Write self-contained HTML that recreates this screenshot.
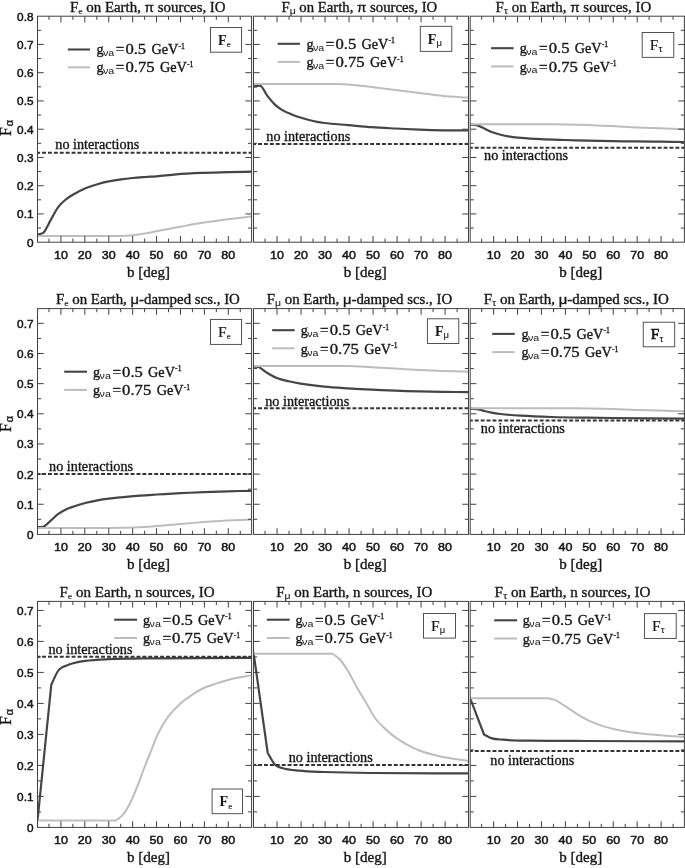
<!DOCTYPE html>
<html><head><meta charset="utf-8"><title>Flavor fractions on Earth</title>
<style>html,body{margin:0;padding:0;background:#fff}svg{display:block}</style></head>
<body>
<svg width="685" height="868" viewBox="0 0 685 868">
<rect width="685" height="868" fill="#fff"/>
<g>
<clipPath id="cp00"><rect x="37.5" y="16.2" width="214.1" height="226"/></clipPath>
<path d="M37.5,234.5C38.67,234.23 39.83,234.11 41,233.7C41.9,233.38 42.8,233.41 43.7,232.4C46.07,229.75 48.43,224.05 50.8,219.9C53.2,215.69 55.6,210.6 58,207.3C60.63,203.68 63.27,201.58 65.9,199.4C68.53,197.22 71.17,195.73 73.8,194.2C77.9,191.82 82,189.72 86.1,188C89.87,186.42 93.63,185.3 97.4,184.2C101.2,183.09 105,182.19 108.8,181.4C112.9,180.55 117,179.88 121.1,179.3C124.93,178.76 128.77,178.36 132.6,178C136.93,177.59 141.27,177.31 145.6,177C149.2,176.74 152.8,176.6 156.4,176.3C163.03,175.75 169.67,174.81 176.3,174.3C185.07,173.63 193.83,173.27 202.6,172.9C211.33,172.53 220.07,172.31 228.8,172.1C236.4,171.92 244,171.83 251.6,171.7" fill="none" stroke="#454545" stroke-width="2.2" stroke-linejoin="round" clip-path="url(#cp00)"/>
<path d="M37.5,235.9C64.33,235.9 91.17,235.9 118,235.9C120.67,235.9 123.33,235.83 126,235.7C128.2,235.59 130.4,235.43 132.6,235.2C136.57,234.78 140.53,234.25 144.5,233.6C148.47,232.95 152.43,232.08 156.4,231.3C160.37,230.52 164.33,229.67 168.3,228.9C172.27,228.13 176.23,227.42 180.2,226.7C188.13,225.27 196.07,223.75 204,222.5C211.9,221.25 219.8,220.18 227.7,219.2C235.67,218.21 243.63,217.47 251.6,216.6" fill="none" stroke="#bdbdbd" stroke-width="2.0" stroke-linejoin="round" clip-path="url(#cp00)"/>
<line x1="37.5" x2="251.6" y1="152.7" y2="152.7" stroke="#333" stroke-width="1.9" stroke-dasharray="3.9 2" stroke-dashoffset="1.3"/>
<path d="M48.98,242.2v-3.6M48.98,16.2v3.6M60.93,242.2v-6.2M60.93,16.2v6.2M72.88,242.2v-3.6M72.88,16.2v3.6M84.84,242.2v-6.2M84.84,16.2v6.2M96.79,242.2v-3.6M96.79,16.2v3.6M108.75,242.2v-6.2M108.75,16.2v6.2M120.7,242.2v-3.6M120.7,16.2v3.6M132.66,242.2v-6.2M132.66,16.2v6.2M144.61,242.2v-3.6M144.61,16.2v3.6M156.56,242.2v-6.2M156.56,16.2v6.2M168.52,242.2v-3.6M168.52,16.2v3.6M180.47,242.2v-6.2M180.47,16.2v6.2M192.43,242.2v-3.6M192.43,16.2v3.6M204.38,242.2v-6.2M204.38,16.2v6.2M216.34,242.2v-3.6M216.34,16.2v3.6M228.29,242.2v-6.2M228.29,16.2v6.2M240.24,242.2v-3.6M240.24,16.2v3.6M37.5,228.07h3.6M251.6,228.07h-3.6M37.5,213.95h6.2M251.6,213.95h-6.2M37.5,199.82h3.6M251.6,199.82h-3.6M37.5,185.7h6.2M251.6,185.7h-6.2M37.5,171.57h3.6M251.6,171.57h-3.6M37.5,157.45h6.2M251.6,157.45h-6.2M37.5,143.32h3.6M251.6,143.32h-3.6M37.5,129.2h6.2M251.6,129.2h-6.2M37.5,115.07h3.6M251.6,115.07h-3.6M37.5,100.95h6.2M251.6,100.95h-6.2M37.5,86.82h3.6M251.6,86.82h-3.6M37.5,72.7h6.2M251.6,72.7h-6.2M37.5,58.57h3.6M251.6,58.57h-3.6M37.5,44.45h6.2M251.6,44.45h-6.2M37.5,30.32h3.6M251.6,30.32h-3.6" stroke="#404040" stroke-width="1" fill="none"/>
<rect x="37.5" y="16.2" width="214.1" height="226" fill="none" stroke="#404040" stroke-width="1"/>
<line x1="67.8" x2="90.0" y1="49.5" y2="49.5" stroke="#454545" stroke-width="2.1"/>
<line x1="67.8" x2="90.0" y1="67.3" y2="67.3" stroke="#bdbdbd" stroke-width="2"/>
<rect x="210.5" y="27.45" width="31.1" height="24.75" fill="#fff" stroke="#404040" stroke-width="0.9"/>
</g>
<g>
<clipPath id="cp01"><rect x="253.5" y="16.2" width="215" height="226"/></clipPath>
<path d="M253.5,86.5C254.5,86.4 255.5,86.39 256.5,86.2C257.1,86.09 257.7,85.7 258.3,85.7C259,85.7 259.7,85.7 260.4,85.8C262.6,86.11 264.8,92.52 267,95.4C269.63,98.85 272.27,102.08 274.9,104.6C277.23,106.83 279.57,108.44 281.9,109.85C285.4,111.97 288.9,113.29 292.4,114.7C295.9,116.11 299.4,117.23 302.9,118.3C306.27,119.33 309.63,120.25 313,121C316.77,121.84 320.53,122.5 324.3,123C332.23,124.05 340.17,124.4 348.1,125.1C356.03,125.8 363.97,126.63 371.9,127.2C379.83,127.77 387.77,128.1 395.7,128.5C403.63,128.9 411.57,129.3 419.5,129.6C427.4,129.9 435.3,130.15 443.2,130.3C451.63,130.46 460.07,130.43 468.5,130.5" fill="none" stroke="#454545" stroke-width="2.2" stroke-linejoin="round" clip-path="url(#cp01)"/>
<path d="M253.5,83.9C279,83.9 304.5,83.9 330,83.9C332.87,83.9 335.73,83.94 338.6,84.05C341.77,84.17 344.93,84.36 348.1,84.6C352.07,84.9 356.03,85.3 360,85.7C363.97,86.1 367.93,86.53 371.9,87C379.83,87.93 387.77,89.02 395.7,90C403.63,90.98 411.57,91.9 419.5,92.9C427.4,93.9 435.3,95.23 443.2,96C451.63,96.82 460.07,97.07 468.5,97.6" fill="none" stroke="#bdbdbd" stroke-width="2.0" stroke-linejoin="round" clip-path="url(#cp01)"/>
<line x1="253.5" x2="468.5" y1="144" y2="144" stroke="#333" stroke-width="1.9" stroke-dasharray="3.9 2" stroke-dashoffset="1.3"/>
<path d="M265.02,242.2v-3.6M265.02,16.2v3.6M277.03,242.2v-6.2M277.03,16.2v6.2M289.03,242.2v-3.6M289.03,16.2v3.6M301.04,242.2v-6.2M301.04,16.2v6.2M313.04,242.2v-3.6M313.04,16.2v3.6M325.05,242.2v-6.2M325.05,16.2v6.2M337.05,242.2v-3.6M337.05,16.2v3.6M349.06,242.2v-6.2M349.06,16.2v6.2M361.06,242.2v-3.6M361.06,16.2v3.6M373.06,242.2v-6.2M373.06,16.2v6.2M385.07,242.2v-3.6M385.07,16.2v3.6M397.07,242.2v-6.2M397.07,16.2v6.2M409.08,242.2v-3.6M409.08,16.2v3.6M421.08,242.2v-6.2M421.08,16.2v6.2M433.09,242.2v-3.6M433.09,16.2v3.6M445.09,242.2v-6.2M445.09,16.2v6.2M457.1,242.2v-3.6M457.1,16.2v3.6M253.5,228.07h3.6M468.5,228.07h-3.6M253.5,213.95h6.2M468.5,213.95h-6.2M253.5,199.82h3.6M468.5,199.82h-3.6M253.5,185.7h6.2M468.5,185.7h-6.2M253.5,171.57h3.6M468.5,171.57h-3.6M253.5,157.45h6.2M468.5,157.45h-6.2M253.5,143.32h3.6M468.5,143.32h-3.6M253.5,129.2h6.2M468.5,129.2h-6.2M253.5,115.07h3.6M468.5,115.07h-3.6M253.5,100.95h6.2M468.5,100.95h-6.2M253.5,86.82h3.6M468.5,86.82h-3.6M253.5,72.7h6.2M468.5,72.7h-6.2M253.5,58.57h3.6M468.5,58.57h-3.6M253.5,44.45h6.2M468.5,44.45h-6.2M253.5,30.32h3.6M468.5,30.32h-3.6" stroke="#404040" stroke-width="1" fill="none"/>
<rect x="253.5" y="16.2" width="215" height="226" fill="none" stroke="#404040" stroke-width="1"/>
<line x1="277.6" x2="299.9" y1="43.800000000000004" y2="43.800000000000004" stroke="#454545" stroke-width="2.1"/>
<line x1="277.6" x2="299.9" y1="61.900000000000006" y2="61.900000000000006" stroke="#bdbdbd" stroke-width="2"/>
<rect x="420.3" y="26.3" width="31.5" height="25.05" fill="#fff" stroke="#404040" stroke-width="0.9"/>
</g>
<g>
<clipPath id="cp02"><rect x="470.2" y="16.2" width="214.2" height="226"/></clipPath>
<path d="M470.2,124.6C471.47,124.67 472.73,124.65 474,124.8C475.4,124.97 476.8,125.13 478.2,125.6C480.23,126.28 482.27,127.53 484.3,128.5C486.33,129.47 488.37,130.56 490.4,131.4C492.1,132.1 493.8,132.64 495.5,133.2C497.23,133.77 498.97,134.37 500.7,134.8C503.8,135.58 506.9,136.12 510,136.6C513.7,137.17 517.4,137.56 521.1,137.9C527.67,138.5 534.23,138.87 540.8,139.2C548.73,139.6 556.67,139.77 564.6,140C572.53,140.23 580.47,140.4 588.4,140.6C596.33,140.8 604.27,141.07 612.2,141.2C620.13,141.33 628.07,141.32 636,141.4C643.9,141.48 651.8,141.6 659.7,141.7C667.93,141.8 676.17,141.9 684.4,142" fill="none" stroke="#454545" stroke-width="2.2" stroke-linejoin="round" clip-path="url(#cp02)"/>
<path d="M470.2,124.3C498.5,124.3 526.8,124.3 555.1,124.3C558.27,124.3 561.43,124.34 564.6,124.4C572.53,124.54 580.47,124.72 588.4,125C596.33,125.28 604.27,125.7 612.2,126.1C620.13,126.5 628.07,127.03 636,127.4C643.9,127.77 651.8,127.99 659.7,128.3C667.93,128.62 676.17,128.97 684.4,129.3" fill="none" stroke="#bdbdbd" stroke-width="2.0" stroke-linejoin="round" clip-path="url(#cp02)"/>
<line x1="470.2" x2="684.4" y1="147.8" y2="147.8" stroke="#333" stroke-width="1.9" stroke-dasharray="3.9 2" stroke-dashoffset="1.3"/>
<path d="M481.68,242.2v-3.6M481.68,16.2v3.6M493.64,242.2v-6.2M493.64,16.2v6.2M505.6,242.2v-3.6M505.6,16.2v3.6M517.56,242.2v-6.2M517.56,16.2v6.2M529.52,242.2v-3.6M529.52,16.2v3.6M541.48,242.2v-6.2M541.48,16.2v6.2M553.44,242.2v-3.6M553.44,16.2v3.6M565.4,242.2v-6.2M565.4,16.2v6.2M577.36,242.2v-3.6M577.36,16.2v3.6M589.32,242.2v-6.2M589.32,16.2v6.2M601.28,242.2v-3.6M601.28,16.2v3.6M613.24,242.2v-6.2M613.24,16.2v6.2M625.2,242.2v-3.6M625.2,16.2v3.6M637.16,242.2v-6.2M637.16,16.2v6.2M649.12,242.2v-3.6M649.12,16.2v3.6M661.08,242.2v-6.2M661.08,16.2v6.2M673.04,242.2v-3.6M673.04,16.2v3.6M470.2,228.07h3.6M684.4,228.07h-3.6M470.2,213.95h6.2M684.4,213.95h-6.2M470.2,199.82h3.6M684.4,199.82h-3.6M470.2,185.7h6.2M684.4,185.7h-6.2M470.2,171.57h3.6M684.4,171.57h-3.6M470.2,157.45h6.2M684.4,157.45h-6.2M470.2,143.32h3.6M684.4,143.32h-3.6M470.2,129.2h6.2M684.4,129.2h-6.2M470.2,115.07h3.6M684.4,115.07h-3.6M470.2,100.95h6.2M684.4,100.95h-6.2M470.2,86.82h3.6M684.4,86.82h-3.6M470.2,72.7h6.2M684.4,72.7h-6.2M470.2,58.57h3.6M684.4,58.57h-3.6M470.2,44.45h6.2M684.4,44.45h-6.2M470.2,30.32h3.6M684.4,30.32h-3.6" stroke="#404040" stroke-width="1" fill="none"/>
<rect x="470.2" y="16.2" width="214.2" height="226" fill="none" stroke="#404040" stroke-width="1"/>
<line x1="491.1" x2="513.6" y1="48.2" y2="48.2" stroke="#454545" stroke-width="2.1"/>
<line x1="491.1" x2="513.6" y1="66.4" y2="66.4" stroke="#bdbdbd" stroke-width="2"/>
<rect x="642.2" y="32.45" width="31.6" height="24.9" fill="#fff" stroke="#404040" stroke-width="0.9"/>
</g>
<g>
<clipPath id="cp10"><rect x="37.5" y="308.6" width="214.1" height="225.8"/></clipPath>
<path d="M37.5,527.2C38.7,527.13 39.9,527.13 41.1,527C42.07,526.89 43.03,526.99 44,526.5C46.33,525.32 48.67,522.45 51,520.4C53.33,518.35 55.67,515.93 58,514.2C60.63,512.25 63.27,510.78 65.9,509.5C68.53,508.22 71.17,507.4 73.8,506.5C77.9,505.1 82,503.87 86.1,502.8C89.87,501.82 93.63,501 97.4,500.3C101.2,499.6 105,499.08 108.8,498.6C112.9,498.08 117,497.7 121.1,497.3C125.2,496.9 129.3,496.53 133.4,496.2C137.47,495.87 141.53,495.59 145.6,495.3C149.4,495.03 153.2,494.74 157,494.5C164.73,494.01 172.47,493.6 180.2,493.2C188.13,492.79 196.07,492.42 204,492.1C211.9,491.78 219.8,491.52 227.7,491.3C235.67,491.08 243.63,490.97 251.6,490.8" fill="none" stroke="#454545" stroke-width="2.2" stroke-linejoin="round" clip-path="url(#cp10)"/>
<path d="M37.5,527.9C61.67,527.9 85.83,527.9 110,527.9C114,527.9 118,527.82 122,527.75C125.53,527.69 129.07,527.62 132.6,527.5C136.57,527.37 140.53,527.23 144.5,527C148.47,526.77 152.43,526.42 156.4,526.1C160.37,525.78 164.33,525.45 168.3,525.1C172.27,524.75 176.23,524.34 180.2,524C188.13,523.32 196.07,522.67 204,522.1C211.9,521.53 219.8,521.03 227.7,520.6C235.67,520.16 243.63,519.87 251.6,519.5" fill="none" stroke="#bdbdbd" stroke-width="2.0" stroke-linejoin="round" clip-path="url(#cp10)"/>
<line x1="37.5" x2="251.6" y1="474" y2="474" stroke="#333" stroke-width="1.9" stroke-dasharray="3.9 2" stroke-dashoffset="1.3"/>
<path d="M48.98,534.4v-3.6M48.98,308.6v3.6M60.93,534.4v-6.2M60.93,308.6v6.2M72.88,534.4v-3.6M72.88,308.6v3.6M84.84,534.4v-6.2M84.84,308.6v6.2M96.79,534.4v-3.6M96.79,308.6v3.6M108.75,534.4v-6.2M108.75,308.6v6.2M120.7,534.4v-3.6M120.7,308.6v3.6M132.66,534.4v-6.2M132.66,308.6v6.2M144.61,534.4v-3.6M144.61,308.6v3.6M156.56,534.4v-6.2M156.56,308.6v6.2M168.52,534.4v-3.6M168.52,308.6v3.6M180.47,534.4v-6.2M180.47,308.6v6.2M192.43,534.4v-3.6M192.43,308.6v3.6M204.38,534.4v-6.2M204.38,308.6v6.2M216.34,534.4v-3.6M216.34,308.6v3.6M228.29,534.4v-6.2M228.29,308.6v6.2M240.24,534.4v-3.6M240.24,308.6v3.6M37.5,519.32h3.6M251.6,519.32h-3.6M37.5,504.25h6.2M251.6,504.25h-6.2M37.5,489.17h3.6M251.6,489.17h-3.6M37.5,474.1h6.2M251.6,474.1h-6.2M37.5,459.02h3.6M251.6,459.02h-3.6M37.5,443.95h6.2M251.6,443.95h-6.2M37.5,428.88h3.6M251.6,428.88h-3.6M37.5,413.8h6.2M251.6,413.8h-6.2M37.5,398.72h3.6M251.6,398.72h-3.6M37.5,383.65h6.2M251.6,383.65h-6.2M37.5,368.57h3.6M251.6,368.57h-3.6M37.5,353.5h6.2M251.6,353.5h-6.2M37.5,338.42h3.6M251.6,338.42h-3.6M37.5,323.35h6.2M251.6,323.35h-6.2" stroke="#404040" stroke-width="1" fill="none"/>
<rect x="37.5" y="308.6" width="214.1" height="225.8" fill="none" stroke="#404040" stroke-width="1"/>
<line x1="64.2" x2="87.0" y1="371.7" y2="371.7" stroke="#454545" stroke-width="2.1"/>
<line x1="64.2" x2="87.0" y1="389.9" y2="389.9" stroke="#bdbdbd" stroke-width="2"/>
<rect x="210.5" y="319.4" width="31.1" height="25.0" fill="#fff" stroke="#404040" stroke-width="0.9"/>
</g>
<g>
<clipPath id="cp11"><rect x="253.5" y="308.6" width="215" height="225.8"/></clipPath>
<path d="M253.5,366.6C254.53,366.6 255.57,366.6 256.6,366.6C257.47,366.6 258.33,366.78 259.2,367.2C261.1,368.12 263,370.12 264.9,371.4C266.87,372.72 268.83,373.91 270.8,375C272.8,376.11 274.8,377.22 276.8,378C280.77,379.54 284.73,380.35 288.7,381.3C292.67,382.25 296.63,383.05 300.6,383.7C308.5,385 316.4,385.92 324.3,386.7C332.23,387.49 340.17,387.9 348.1,388.4C356.03,388.9 363.97,389.32 371.9,389.7C379.83,390.08 387.77,390.42 395.7,390.7C403.63,390.98 411.57,391.2 419.5,391.4C427.4,391.6 435.3,391.79 443.2,391.9C451.63,392.02 460.07,392.03 468.5,392.1" fill="none" stroke="#454545" stroke-width="2.2" stroke-linejoin="round" clip-path="url(#cp11)"/>
<path d="M253.5,366C285.03,366 316.57,366 348.1,366C356.03,366 363.97,366.77 371.9,367.2C379.83,367.63 387.77,368.15 395.7,368.6C403.63,369.05 411.57,369.52 419.5,369.9C427.4,370.28 435.3,370.61 443.2,370.9C451.63,371.21 460.07,371.43 468.5,371.7" fill="none" stroke="#bdbdbd" stroke-width="2.0" stroke-linejoin="round" clip-path="url(#cp11)"/>
<line x1="253.5" x2="468.5" y1="408.3" y2="408.3" stroke="#333" stroke-width="1.9" stroke-dasharray="3.9 2" stroke-dashoffset="1.3"/>
<path d="M265.02,534.4v-3.6M265.02,308.6v3.6M277.03,534.4v-6.2M277.03,308.6v6.2M289.03,534.4v-3.6M289.03,308.6v3.6M301.04,534.4v-6.2M301.04,308.6v6.2M313.04,534.4v-3.6M313.04,308.6v3.6M325.05,534.4v-6.2M325.05,308.6v6.2M337.05,534.4v-3.6M337.05,308.6v3.6M349.06,534.4v-6.2M349.06,308.6v6.2M361.06,534.4v-3.6M361.06,308.6v3.6M373.06,534.4v-6.2M373.06,308.6v6.2M385.07,534.4v-3.6M385.07,308.6v3.6M397.07,534.4v-6.2M397.07,308.6v6.2M409.08,534.4v-3.6M409.08,308.6v3.6M421.08,534.4v-6.2M421.08,308.6v6.2M433.09,534.4v-3.6M433.09,308.6v3.6M445.09,534.4v-6.2M445.09,308.6v6.2M457.1,534.4v-3.6M457.1,308.6v3.6M253.5,519.32h3.6M468.5,519.32h-3.6M253.5,504.25h6.2M468.5,504.25h-6.2M253.5,489.17h3.6M468.5,489.17h-3.6M253.5,474.1h6.2M468.5,474.1h-6.2M253.5,459.02h3.6M468.5,459.02h-3.6M253.5,443.95h6.2M468.5,443.95h-6.2M253.5,428.88h3.6M468.5,428.88h-3.6M253.5,413.8h6.2M468.5,413.8h-6.2M253.5,398.72h3.6M468.5,398.72h-3.6M253.5,383.65h6.2M468.5,383.65h-6.2M253.5,368.57h3.6M468.5,368.57h-3.6M253.5,353.5h6.2M468.5,353.5h-6.2M253.5,338.42h3.6M468.5,338.42h-3.6M253.5,323.35h6.2M468.5,323.35h-6.2" stroke="#404040" stroke-width="1" fill="none"/>
<rect x="253.5" y="308.6" width="215" height="225.8" fill="none" stroke="#404040" stroke-width="1"/>
<line x1="272.2" x2="294.7" y1="330.2" y2="330.2" stroke="#454545" stroke-width="2.1"/>
<line x1="272.2" x2="294.7" y1="348.3" y2="348.3" stroke="#bdbdbd" stroke-width="2"/>
<rect x="427.4" y="318.8" width="31.4" height="24.7" fill="#fff" stroke="#404040" stroke-width="0.9"/>
</g>
<g>
<clipPath id="cp12"><rect x="470.2" y="308.6" width="214.2" height="225.8"/></clipPath>
<path d="M470.2,408.8C471.47,408.83 472.73,408.81 474,408.9C475.83,409.04 477.67,409.22 479.5,409.6C481.1,409.94 482.7,410.58 484.3,411C486.33,411.53 488.37,412.01 490.4,412.4C493.83,413.06 497.27,413.59 500.7,414C507.5,414.81 514.3,415.27 521.1,415.7C531.33,416.34 541.57,416.68 551.8,417C563.87,417.37 575.93,417.51 588,417.7C596,417.83 604,417.92 612,418C636.13,418.25 660.27,418.4 684.4,418.6" fill="none" stroke="#454545" stroke-width="2.2" stroke-linejoin="round" clip-path="url(#cp12)"/>
<path d="M470.2,408.3C501.67,408.3 533.13,408.3 564.6,408.3C572.53,408.3 580.47,408.37 588.4,408.5C596.33,408.63 604.27,408.87 612.2,409.1C620.13,409.33 628.07,409.65 636,409.9C643.9,410.15 651.8,410.39 659.7,410.6C667.93,410.82 676.17,411 684.4,411.2" fill="none" stroke="#bdbdbd" stroke-width="2.0" stroke-linejoin="round" clip-path="url(#cp12)"/>
<line x1="470.2" x2="684.4" y1="420.5" y2="420.5" stroke="#333" stroke-width="1.9" stroke-dasharray="3.9 2" stroke-dashoffset="1.3"/>
<path d="M481.68,534.4v-3.6M481.68,308.6v3.6M493.64,534.4v-6.2M493.64,308.6v6.2M505.6,534.4v-3.6M505.6,308.6v3.6M517.56,534.4v-6.2M517.56,308.6v6.2M529.52,534.4v-3.6M529.52,308.6v3.6M541.48,534.4v-6.2M541.48,308.6v6.2M553.44,534.4v-3.6M553.44,308.6v3.6M565.4,534.4v-6.2M565.4,308.6v6.2M577.36,534.4v-3.6M577.36,308.6v3.6M589.32,534.4v-6.2M589.32,308.6v6.2M601.28,534.4v-3.6M601.28,308.6v3.6M613.24,534.4v-6.2M613.24,308.6v6.2M625.2,534.4v-3.6M625.2,308.6v3.6M637.16,534.4v-6.2M637.16,308.6v6.2M649.12,534.4v-3.6M649.12,308.6v3.6M661.08,534.4v-6.2M661.08,308.6v6.2M673.04,534.4v-3.6M673.04,308.6v3.6M470.2,519.32h3.6M684.4,519.32h-3.6M470.2,504.25h6.2M684.4,504.25h-6.2M470.2,489.17h3.6M684.4,489.17h-3.6M470.2,474.1h6.2M684.4,474.1h-6.2M470.2,459.02h3.6M684.4,459.02h-3.6M470.2,443.95h6.2M684.4,443.95h-6.2M470.2,428.88h3.6M684.4,428.88h-3.6M470.2,413.8h6.2M684.4,413.8h-6.2M470.2,398.72h3.6M684.4,398.72h-3.6M470.2,383.65h6.2M684.4,383.65h-6.2M470.2,368.57h3.6M684.4,368.57h-3.6M470.2,353.5h6.2M684.4,353.5h-6.2M470.2,338.42h3.6M684.4,338.42h-3.6M470.2,323.35h6.2M684.4,323.35h-6.2" stroke="#404040" stroke-width="1" fill="none"/>
<rect x="470.2" y="308.6" width="214.2" height="225.8" fill="none" stroke="#404040" stroke-width="1"/>
<line x1="492.2" x2="514.7" y1="333.9" y2="333.9" stroke="#454545" stroke-width="2.1"/>
<line x1="492.2" x2="514.7" y1="352.09999999999997" y2="352.09999999999997" stroke="#bdbdbd" stroke-width="2"/>
<rect x="643.25" y="322.2" width="31.45" height="24.6" fill="#fff" stroke="#404040" stroke-width="0.9"/>
</g>
<g>
<clipPath id="cp20"><rect x="37.5" y="601.4" width="214.1" height="226"/></clipPath>
<path d="M37.5,820.6L51.3,684.7C53.53,680.13 55.77,674.33 58,671C59.1,669.36 60.2,668.67 61.3,667.9C62.87,666.8 64.43,666.34 66,665.7C68.4,664.72 70.8,663.85 73.2,663.2C77.17,662.13 81.13,661.43 85.1,660.9C93,659.85 100.9,659.58 108.8,659.2C116.73,658.82 124.67,658.75 132.6,658.6C140.53,658.45 148.47,658.37 156.4,658.3C188.13,658.03 219.87,658.03 251.6,657.9" fill="none" stroke="#454545" stroke-width="2.2" stroke-linejoin="round" clip-path="url(#cp20)"/>
<path d="M37.5,820.6L115.9,820.6C118.4,818.47 120.9,817.36 123.4,814.2C125.73,811.25 128.07,807.17 130.4,802.5C132.73,797.83 135.07,792.03 137.4,786.2C139.73,780.37 142.07,773.53 144.4,767.5C146.73,761.47 149.07,755.77 151.4,750C153.73,744.23 156.07,737.7 158.4,732.9C161.53,726.46 164.67,721.55 167.8,717.2C171.67,711.84 175.53,707.97 179.4,704.4C184.1,700.06 188.8,697.01 193.5,693.9C196.6,691.85 199.7,689.96 202.8,688.5C207.47,686.3 212.13,684.95 216.8,683.4C221.47,681.85 226.13,680.34 230.8,679.2C237.73,677.51 244.67,676.6 251.6,675.3" fill="none" stroke="#bdbdbd" stroke-width="2.0" stroke-linejoin="round" clip-path="url(#cp20)"/>
<line x1="37.5" x2="251.6" y1="656.7" y2="656.7" stroke="#333" stroke-width="1.9" stroke-dasharray="3.9 2" stroke-dashoffset="1.3"/>
<path d="M48.98,827.4v-3.6M48.98,601.4v3.6M60.93,827.4v-6.2M60.93,601.4v6.2M72.88,827.4v-3.6M72.88,601.4v3.6M84.84,827.4v-6.2M84.84,601.4v6.2M96.79,827.4v-3.6M96.79,601.4v3.6M108.75,827.4v-6.2M108.75,601.4v6.2M120.7,827.4v-3.6M120.7,601.4v3.6M132.66,827.4v-6.2M132.66,601.4v6.2M144.61,827.4v-3.6M144.61,601.4v3.6M156.56,827.4v-6.2M156.56,601.4v6.2M168.52,827.4v-3.6M168.52,601.4v3.6M180.47,827.4v-6.2M180.47,601.4v6.2M192.43,827.4v-3.6M192.43,601.4v3.6M204.38,827.4v-6.2M204.38,601.4v6.2M216.34,827.4v-3.6M216.34,601.4v3.6M228.29,827.4v-6.2M228.29,601.4v6.2M240.24,827.4v-3.6M240.24,601.4v3.6M37.5,811.9h3.6M251.6,811.9h-3.6M37.5,796.4h6.2M251.6,796.4h-6.2M37.5,780.9h3.6M251.6,780.9h-3.6M37.5,765.4h6.2M251.6,765.4h-6.2M37.5,749.9h3.6M251.6,749.9h-3.6M37.5,734.4h6.2M251.6,734.4h-6.2M37.5,718.9h3.6M251.6,718.9h-3.6M37.5,703.4h6.2M251.6,703.4h-6.2M37.5,687.9h3.6M251.6,687.9h-3.6M37.5,672.4h6.2M251.6,672.4h-6.2M37.5,656.9h3.6M251.6,656.9h-3.6M37.5,641.4h6.2M251.6,641.4h-6.2M37.5,625.9h3.6M251.6,625.9h-3.6M37.5,610.4h6.2M251.6,610.4h-6.2" stroke="#404040" stroke-width="1" fill="none"/>
<rect x="37.5" y="601.4" width="214.1" height="226" fill="none" stroke="#404040" stroke-width="1"/>
<line x1="114.2" x2="137.1" y1="619.7" y2="619.7" stroke="#454545" stroke-width="2.1"/>
<line x1="114.2" x2="137.1" y1="638.0" y2="638.0" stroke="#bdbdbd" stroke-width="2"/>
<rect x="212.1" y="789" width="30.4" height="24.7" fill="#fff" stroke="#404040" stroke-width="0.9"/>
</g>
<g>
<clipPath id="cp21"><rect x="253.5" y="601.4" width="215" height="226"/></clipPath>
<path d="M253.5,652.4L267.7,753C270.17,756.93 272.63,762.26 275.1,764.8C277.4,767.17 279.7,767.28 282,768C287.57,769.74 293.13,770.11 298.7,770.7C307.23,771.61 315.77,771.69 324.3,772C340.17,772.57 356.03,772.81 371.9,773C404.1,773.38 436.3,773.27 468.5,773.4" fill="none" stroke="#454545" stroke-width="2.2" stroke-linejoin="round" clip-path="url(#cp21)"/>
<path d="M253.5,653.8L332.6,653.8C334.97,655.63 337.33,656.73 339.7,659.3C342.37,662.2 345.03,666.2 347.7,670.5C350.93,675.71 354.17,682.56 357.4,688.2C360.6,693.79 363.8,698.77 367,704.2C369.67,708.72 372.33,714.27 375,718C377.7,721.78 380.4,724 383.1,726.7C385.77,729.37 388.43,731.96 391.1,734.1C395.37,737.52 399.63,740.29 403.9,742.8C409.27,745.96 414.63,748.72 420,750.8C426.43,753.3 432.87,754.76 439.3,756.2C449.03,758.38 458.77,759.47 468.5,761.1" fill="none" stroke="#bdbdbd" stroke-width="2.0" stroke-linejoin="round" clip-path="url(#cp21)"/>
<line x1="253.5" x2="468.5" y1="765" y2="765" stroke="#333" stroke-width="1.9" stroke-dasharray="3.9 2" stroke-dashoffset="1.3"/>
<path d="M265.02,827.4v-3.6M265.02,601.4v3.6M277.03,827.4v-6.2M277.03,601.4v6.2M289.03,827.4v-3.6M289.03,601.4v3.6M301.04,827.4v-6.2M301.04,601.4v6.2M313.04,827.4v-3.6M313.04,601.4v3.6M325.05,827.4v-6.2M325.05,601.4v6.2M337.05,827.4v-3.6M337.05,601.4v3.6M349.06,827.4v-6.2M349.06,601.4v6.2M361.06,827.4v-3.6M361.06,601.4v3.6M373.06,827.4v-6.2M373.06,601.4v6.2M385.07,827.4v-3.6M385.07,601.4v3.6M397.07,827.4v-6.2M397.07,601.4v6.2M409.08,827.4v-3.6M409.08,601.4v3.6M421.08,827.4v-6.2M421.08,601.4v6.2M433.09,827.4v-3.6M433.09,601.4v3.6M445.09,827.4v-6.2M445.09,601.4v6.2M457.1,827.4v-3.6M457.1,601.4v3.6M253.5,811.9h3.6M468.5,811.9h-3.6M253.5,796.4h6.2M468.5,796.4h-6.2M253.5,780.9h3.6M468.5,780.9h-3.6M253.5,765.4h6.2M468.5,765.4h-6.2M253.5,749.9h3.6M468.5,749.9h-3.6M253.5,734.4h6.2M468.5,734.4h-6.2M253.5,718.9h3.6M468.5,718.9h-3.6M253.5,703.4h6.2M468.5,703.4h-6.2M253.5,687.9h3.6M468.5,687.9h-3.6M253.5,672.4h6.2M468.5,672.4h-6.2M253.5,656.9h3.6M468.5,656.9h-3.6M253.5,641.4h6.2M468.5,641.4h-6.2M253.5,625.9h3.6M468.5,625.9h-3.6M253.5,610.4h6.2M468.5,610.4h-6.2" stroke="#404040" stroke-width="1" fill="none"/>
<rect x="253.5" y="601.4" width="215" height="226" fill="none" stroke="#404040" stroke-width="1"/>
<line x1="266.8" x2="289.7" y1="619.7" y2="619.7" stroke="#454545" stroke-width="2.1"/>
<line x1="266.8" x2="289.7" y1="638.0" y2="638.0" stroke="#bdbdbd" stroke-width="2"/>
<rect x="423.5" y="613.5" width="32.0" height="24.6" fill="#fff" stroke="#404040" stroke-width="0.9"/>
</g>
<g>
<clipPath id="cp22"><rect x="470.2" y="601.4" width="214.2" height="226"/></clipPath>
<path d="M470.2,698.3L484,734.5C486.37,735.7 488.73,737.34 491.1,738.1C495,739.36 498.9,739.36 502.8,739.7C511.53,740.46 520.27,740.57 529,740.7C548.8,740.99 568.6,740.94 588.4,741C620.4,741.1 652.4,741.27 684.4,741.4" fill="none" stroke="#454545" stroke-width="2.2" stroke-linejoin="round" clip-path="url(#cp22)"/>
<path d="M470.2,698.3L547.8,698.3C550.33,698.9 552.87,699.02 555.4,700.1C558.07,701.23 560.73,703.3 563.4,705C567.83,707.82 572.27,711.11 576.7,713.8C581.3,716.59 585.9,719.29 590.5,721.4C595.2,723.56 599.9,725.17 604.6,726.6C611.17,728.59 617.73,730.1 624.3,731.3C630.87,732.5 637.43,733.1 644,733.8C650.6,734.5 657.2,735.01 663.8,735.5C670.67,736.01 677.53,736.37 684.4,736.8" fill="none" stroke="#bdbdbd" stroke-width="2.0" stroke-linejoin="round" clip-path="url(#cp22)"/>
<line x1="470.2" x2="684.4" y1="751" y2="751" stroke="#333" stroke-width="1.9" stroke-dasharray="3.9 2" stroke-dashoffset="1.3"/>
<path d="M481.68,827.4v-3.6M481.68,601.4v3.6M493.64,827.4v-6.2M493.64,601.4v6.2M505.6,827.4v-3.6M505.6,601.4v3.6M517.56,827.4v-6.2M517.56,601.4v6.2M529.52,827.4v-3.6M529.52,601.4v3.6M541.48,827.4v-6.2M541.48,601.4v6.2M553.44,827.4v-3.6M553.44,601.4v3.6M565.4,827.4v-6.2M565.4,601.4v6.2M577.36,827.4v-3.6M577.36,601.4v3.6M589.32,827.4v-6.2M589.32,601.4v6.2M601.28,827.4v-3.6M601.28,601.4v3.6M613.24,827.4v-6.2M613.24,601.4v6.2M625.2,827.4v-3.6M625.2,601.4v3.6M637.16,827.4v-6.2M637.16,601.4v6.2M649.12,827.4v-3.6M649.12,601.4v3.6M661.08,827.4v-6.2M661.08,601.4v6.2M673.04,827.4v-3.6M673.04,601.4v3.6M470.2,811.9h3.6M684.4,811.9h-3.6M470.2,796.4h6.2M684.4,796.4h-6.2M470.2,780.9h3.6M684.4,780.9h-3.6M470.2,765.4h6.2M684.4,765.4h-6.2M470.2,749.9h3.6M684.4,749.9h-3.6M470.2,734.4h6.2M684.4,734.4h-6.2M470.2,718.9h3.6M684.4,718.9h-3.6M470.2,703.4h6.2M684.4,703.4h-6.2M470.2,687.9h3.6M684.4,687.9h-3.6M470.2,672.4h6.2M684.4,672.4h-6.2M470.2,656.9h3.6M684.4,656.9h-3.6M470.2,641.4h6.2M684.4,641.4h-6.2M470.2,625.9h3.6M684.4,625.9h-3.6M470.2,610.4h6.2M684.4,610.4h-6.2" stroke="#404040" stroke-width="1" fill="none"/>
<rect x="470.2" y="601.4" width="214.2" height="226" fill="none" stroke="#404040" stroke-width="1"/>
<line x1="494.2" x2="517.1" y1="620.3000000000001" y2="620.3000000000001" stroke="#454545" stroke-width="2.1"/>
<line x1="494.2" x2="517.1" y1="638.5" y2="638.5" stroke="#bdbdbd" stroke-width="2"/>
<rect x="644.5" y="613.65" width="31.7" height="24.75" fill="#fff" stroke="#404040" stroke-width="0.9"/>
</g>
<g fill="#161616" stroke="#161616" stroke-width="0.35">
<text x="53.98" y="258.7" font-family="Liberation Sans, sans-serif" font-size="11.8" textLength="13.9" lengthAdjust="spacingAndGlyphs" stroke-width="0.5">10</text>
<text x="77.89" y="258.7" font-family="Liberation Sans, sans-serif" font-size="11.8" textLength="13.9" lengthAdjust="spacingAndGlyphs" stroke-width="0.5">20</text>
<text x="101.8" y="258.7" font-family="Liberation Sans, sans-serif" font-size="11.8" textLength="13.9" lengthAdjust="spacingAndGlyphs" stroke-width="0.5">30</text>
<text x="125.71" y="258.7" font-family="Liberation Sans, sans-serif" font-size="11.8" textLength="13.9" lengthAdjust="spacingAndGlyphs" stroke-width="0.5">40</text>
<text x="149.61" y="258.7" font-family="Liberation Sans, sans-serif" font-size="11.8" textLength="13.9" lengthAdjust="spacingAndGlyphs" stroke-width="0.5">50</text>
<text x="173.52" y="258.7" font-family="Liberation Sans, sans-serif" font-size="11.8" textLength="13.9" lengthAdjust="spacingAndGlyphs" stroke-width="0.5">60</text>
<text x="197.43" y="258.7" font-family="Liberation Sans, sans-serif" font-size="11.8" textLength="13.9" lengthAdjust="spacingAndGlyphs" stroke-width="0.5">70</text>
<text x="221.34" y="258.7" font-family="Liberation Sans, sans-serif" font-size="11.8" textLength="13.9" lengthAdjust="spacingAndGlyphs" stroke-width="0.5">80</text>
<text x="33.5" y="246.7" font-family="Liberation Sans, sans-serif" font-size="11.8" text-anchor="end" stroke-width="0.5">0</text>
<text x="33.5" y="218.45" font-family="Liberation Sans, sans-serif" font-size="11.8" text-anchor="end" stroke-width="0.5">0.1</text>
<text x="33.5" y="190.2" font-family="Liberation Sans, sans-serif" font-size="11.8" text-anchor="end" stroke-width="0.5">0.2</text>
<text x="33.5" y="161.95" font-family="Liberation Sans, sans-serif" font-size="11.8" text-anchor="end" stroke-width="0.5">0.3</text>
<text x="33.5" y="133.7" font-family="Liberation Sans, sans-serif" font-size="11.8" text-anchor="end" stroke-width="0.5">0.4</text>
<text x="33.5" y="105.45" font-family="Liberation Sans, sans-serif" font-size="11.8" text-anchor="end" stroke-width="0.5">0.5</text>
<text x="33.5" y="77.2" font-family="Liberation Sans, sans-serif" font-size="11.8" text-anchor="end" stroke-width="0.5">0.6</text>
<text x="33.5" y="48.95" font-family="Liberation Sans, sans-serif" font-size="11.8" text-anchor="end" stroke-width="0.5">0.7</text>
<text x="33.5" y="20.7" font-family="Liberation Sans, sans-serif" font-size="11.8" text-anchor="end" stroke-width="0.5">0.8</text>
<text transform="translate(10.9,136) rotate(-90)" font-family="Liberation Serif, serif" font-size="16">F<tspan font-family="Liberation Sans, sans-serif" font-size="11" dy="2.2" dx="0.8">α</tspan></text>
<text x="127.05" y="276.8" font-family="Liberation Serif, serif" font-size="14.2" textLength="43" lengthAdjust="spacingAndGlyphs">b [deg]</text>
<text x="69.9" y="11.6" font-family="Liberation Serif, serif" font-size="13.6" textLength="155.7" lengthAdjust="spacingAndGlyphs">F<tspan font-family="Liberation Serif, serif" font-size="9" dy="2.3" stroke-width="0.1">e</tspan><tspan dy="-2.3"> on Earth, <tspan font-family="Liberation Sans, sans-serif" font-size="12.5">π</tspan> sources, IO</tspan></text>
<text x="55.3" y="149.1" font-family="Liberation Serif, serif" font-size="14.2" textLength="84" lengthAdjust="spacingAndGlyphs">no interactions</text>
<text y="54.4" font-family="Liberation Serif, serif" font-size="14.2"><tspan x="96.4">g</tspan><tspan x="102.9" dy="1.9" font-family="Liberation Sans, sans-serif" font-size="9.4" stroke="none" textLength="11.3" lengthAdjust="spacingAndGlyphs">νa</tspan><tspan x="115.7" dy="-1.9" textLength="8.6" lengthAdjust="spacingAndGlyphs">=</tspan><tspan x="125.4" textLength="20.8" lengthAdjust="spacingAndGlyphs">0.5</tspan><tspan> </tspan><tspan x="151.4" textLength="26.8" lengthAdjust="spacingAndGlyphs">GeV</tspan><tspan x="178.4" dy="-5.6" font-size="9" textLength="6.4" lengthAdjust="spacingAndGlyphs">-1</tspan></text>
<text y="72.4" font-family="Liberation Serif, serif" font-size="14.2"><tspan x="96.4">g</tspan><tspan x="102.9" dy="1.9" font-family="Liberation Sans, sans-serif" font-size="9.4" stroke="none" textLength="11.3" lengthAdjust="spacingAndGlyphs">νa</tspan><tspan x="115.7" dy="-1.9" textLength="8.6" lengthAdjust="spacingAndGlyphs">=</tspan><tspan x="125.4" textLength="29.2" lengthAdjust="spacingAndGlyphs">0.75</tspan><tspan> </tspan><tspan x="160" textLength="26.8" lengthAdjust="spacingAndGlyphs">GeV</tspan><tspan x="187" dy="-5.6" font-size="9" textLength="6.4" lengthAdjust="spacingAndGlyphs">-1</tspan></text>
<text y="44.65" font-family="Liberation Serif, serif" font-size="14.2"><tspan x="218" textLength="8.6" lengthAdjust="spacingAndGlyphs" font-weight="bold" stroke="none">F</tspan><tspan x="226.7" dy="2.4" font-family="Liberation Serif, serif" font-size="9" stroke-width="0.1">e</tspan></text>
<text x="270.08" y="258.7" font-family="Liberation Sans, sans-serif" font-size="11.8" textLength="13.9" lengthAdjust="spacingAndGlyphs" stroke-width="0.5">10</text>
<text x="294.09" y="258.7" font-family="Liberation Sans, sans-serif" font-size="11.8" textLength="13.9" lengthAdjust="spacingAndGlyphs" stroke-width="0.5">20</text>
<text x="318.1" y="258.7" font-family="Liberation Sans, sans-serif" font-size="11.8" textLength="13.9" lengthAdjust="spacingAndGlyphs" stroke-width="0.5">30</text>
<text x="342.11" y="258.7" font-family="Liberation Sans, sans-serif" font-size="11.8" textLength="13.9" lengthAdjust="spacingAndGlyphs" stroke-width="0.5">40</text>
<text x="366.11" y="258.7" font-family="Liberation Sans, sans-serif" font-size="11.8" textLength="13.9" lengthAdjust="spacingAndGlyphs" stroke-width="0.5">50</text>
<text x="390.12" y="258.7" font-family="Liberation Sans, sans-serif" font-size="11.8" textLength="13.9" lengthAdjust="spacingAndGlyphs" stroke-width="0.5">60</text>
<text x="414.13" y="258.7" font-family="Liberation Sans, sans-serif" font-size="11.8" textLength="13.9" lengthAdjust="spacingAndGlyphs" stroke-width="0.5">70</text>
<text x="438.14" y="258.7" font-family="Liberation Sans, sans-serif" font-size="11.8" textLength="13.9" lengthAdjust="spacingAndGlyphs" stroke-width="0.5">80</text>
<text x="343.7" y="276.8" font-family="Liberation Serif, serif" font-size="14.2" textLength="43" lengthAdjust="spacingAndGlyphs">b [deg]</text>
<text x="281.5" y="11.6" font-family="Liberation Serif, serif" font-size="13.6" textLength="155.7" lengthAdjust="spacingAndGlyphs">F<tspan font-family="Liberation Sans, sans-serif" font-size="9.5" dy="2.3" stroke-width="0.1">μ</tspan><tspan dy="-2.3"> on Earth, <tspan font-family="Liberation Sans, sans-serif" font-size="12.5">π</tspan> sources, IO</tspan></text>
<text x="266.3" y="141.2" font-family="Liberation Serif, serif" font-size="14.2" textLength="84" lengthAdjust="spacingAndGlyphs">no interactions</text>
<text y="48.6" font-family="Liberation Serif, serif" font-size="14.2"><tspan x="306.5">g</tspan><tspan x="313" dy="1.9" font-family="Liberation Sans, sans-serif" font-size="9.4" stroke="none" textLength="11.3" lengthAdjust="spacingAndGlyphs">νa</tspan><tspan x="325.8" dy="-1.9" textLength="8.6" lengthAdjust="spacingAndGlyphs">=</tspan><tspan x="335.5" textLength="20.8" lengthAdjust="spacingAndGlyphs">0.5</tspan><tspan> </tspan><tspan x="361.5" textLength="26.8" lengthAdjust="spacingAndGlyphs">GeV</tspan><tspan x="388.5" dy="-5.6" font-size="9" textLength="6.4" lengthAdjust="spacingAndGlyphs">-1</tspan></text>
<text y="67.1" font-family="Liberation Serif, serif" font-size="14.2"><tspan x="306.5">g</tspan><tspan x="313" dy="1.9" font-family="Liberation Sans, sans-serif" font-size="9.4" stroke="none" textLength="11.3" lengthAdjust="spacingAndGlyphs">νa</tspan><tspan x="325.8" dy="-1.9" textLength="8.6" lengthAdjust="spacingAndGlyphs">=</tspan><tspan x="335.5" textLength="29.2" lengthAdjust="spacingAndGlyphs">0.75</tspan><tspan> </tspan><tspan x="370.1" textLength="26.8" lengthAdjust="spacingAndGlyphs">GeV</tspan><tspan x="397.1" dy="-5.6" font-size="9" textLength="6.4" lengthAdjust="spacingAndGlyphs">-1</tspan></text>
<text y="43.5" font-family="Liberation Serif, serif" font-size="14.2"><tspan x="427.8" textLength="8.6" lengthAdjust="spacingAndGlyphs" font-weight="bold" stroke="none">F</tspan><tspan x="436.5" dy="2.4" font-family="Liberation Sans, sans-serif" font-size="9.5" stroke-width="0.1">μ</tspan></text>
<text x="486.69" y="258.7" font-family="Liberation Sans, sans-serif" font-size="11.8" textLength="13.9" lengthAdjust="spacingAndGlyphs" stroke-width="0.5">10</text>
<text x="510.61" y="258.7" font-family="Liberation Sans, sans-serif" font-size="11.8" textLength="13.9" lengthAdjust="spacingAndGlyphs" stroke-width="0.5">20</text>
<text x="534.53" y="258.7" font-family="Liberation Sans, sans-serif" font-size="11.8" textLength="13.9" lengthAdjust="spacingAndGlyphs" stroke-width="0.5">30</text>
<text x="558.45" y="258.7" font-family="Liberation Sans, sans-serif" font-size="11.8" textLength="13.9" lengthAdjust="spacingAndGlyphs" stroke-width="0.5">40</text>
<text x="582.37" y="258.7" font-family="Liberation Sans, sans-serif" font-size="11.8" textLength="13.9" lengthAdjust="spacingAndGlyphs" stroke-width="0.5">50</text>
<text x="606.29" y="258.7" font-family="Liberation Sans, sans-serif" font-size="11.8" textLength="13.9" lengthAdjust="spacingAndGlyphs" stroke-width="0.5">60</text>
<text x="630.21" y="258.7" font-family="Liberation Sans, sans-serif" font-size="11.8" textLength="13.9" lengthAdjust="spacingAndGlyphs" stroke-width="0.5">70</text>
<text x="654.13" y="258.7" font-family="Liberation Sans, sans-serif" font-size="11.8" textLength="13.9" lengthAdjust="spacingAndGlyphs" stroke-width="0.5">80</text>
<text x="559.2" y="276.8" font-family="Liberation Serif, serif" font-size="14.2" textLength="43" lengthAdjust="spacingAndGlyphs">b [deg]</text>
<text x="495.5" y="11.6" font-family="Liberation Serif, serif" font-size="13.6" textLength="155.8" lengthAdjust="spacingAndGlyphs">F<tspan font-family="Liberation Sans, sans-serif" font-size="9.8" dy="2.3" stroke-width="0.1">τ</tspan><tspan dy="-2.3"> on Earth, <tspan font-family="Liberation Sans, sans-serif" font-size="12.5">π</tspan> sources, IO</tspan></text>
<text x="484.1" y="160.4" font-family="Liberation Serif, serif" font-size="14.2" textLength="84" lengthAdjust="spacingAndGlyphs">no interactions</text>
<text y="52.9" font-family="Liberation Serif, serif" font-size="14.2"><tspan x="519.7">g</tspan><tspan x="526.2" dy="1.9" font-family="Liberation Sans, sans-serif" font-size="9.4" stroke="none" textLength="11.3" lengthAdjust="spacingAndGlyphs">νa</tspan><tspan x="539" dy="-1.9" textLength="8.6" lengthAdjust="spacingAndGlyphs">=</tspan><tspan x="548.7" textLength="20.8" lengthAdjust="spacingAndGlyphs">0.5</tspan><tspan> </tspan><tspan x="574.7" textLength="26.8" lengthAdjust="spacingAndGlyphs">GeV</tspan><tspan x="601.7" dy="-5.6" font-size="9" textLength="6.4" lengthAdjust="spacingAndGlyphs">-1</tspan></text>
<text y="71.5" font-family="Liberation Serif, serif" font-size="14.2"><tspan x="519.7">g</tspan><tspan x="526.2" dy="1.9" font-family="Liberation Sans, sans-serif" font-size="9.4" stroke="none" textLength="11.3" lengthAdjust="spacingAndGlyphs">νa</tspan><tspan x="539" dy="-1.9" textLength="8.6" lengthAdjust="spacingAndGlyphs">=</tspan><tspan x="548.7" textLength="29.2" lengthAdjust="spacingAndGlyphs">0.75</tspan><tspan> </tspan><tspan x="583.3" textLength="26.8" lengthAdjust="spacingAndGlyphs">GeV</tspan><tspan x="610.3" dy="-5.6" font-size="9" textLength="6.4" lengthAdjust="spacingAndGlyphs">-1</tspan></text>
<text y="49.65" font-family="Liberation Serif, serif" font-size="14.2"><tspan x="649.7" textLength="8.6" lengthAdjust="spacingAndGlyphs" stroke-width="0.15">F</tspan><tspan x="658.4" dy="2.4" font-family="Liberation Sans, sans-serif" font-size="9.8" stroke-width="0.1">τ</tspan></text>
<text x="53.98" y="550.9" font-family="Liberation Sans, sans-serif" font-size="11.8" textLength="13.9" lengthAdjust="spacingAndGlyphs" stroke-width="0.5">10</text>
<text x="77.89" y="550.9" font-family="Liberation Sans, sans-serif" font-size="11.8" textLength="13.9" lengthAdjust="spacingAndGlyphs" stroke-width="0.5">20</text>
<text x="101.8" y="550.9" font-family="Liberation Sans, sans-serif" font-size="11.8" textLength="13.9" lengthAdjust="spacingAndGlyphs" stroke-width="0.5">30</text>
<text x="125.71" y="550.9" font-family="Liberation Sans, sans-serif" font-size="11.8" textLength="13.9" lengthAdjust="spacingAndGlyphs" stroke-width="0.5">40</text>
<text x="149.61" y="550.9" font-family="Liberation Sans, sans-serif" font-size="11.8" textLength="13.9" lengthAdjust="spacingAndGlyphs" stroke-width="0.5">50</text>
<text x="173.52" y="550.9" font-family="Liberation Sans, sans-serif" font-size="11.8" textLength="13.9" lengthAdjust="spacingAndGlyphs" stroke-width="0.5">60</text>
<text x="197.43" y="550.9" font-family="Liberation Sans, sans-serif" font-size="11.8" textLength="13.9" lengthAdjust="spacingAndGlyphs" stroke-width="0.5">70</text>
<text x="221.34" y="550.9" font-family="Liberation Sans, sans-serif" font-size="11.8" textLength="13.9" lengthAdjust="spacingAndGlyphs" stroke-width="0.5">80</text>
<text x="33.5" y="538.9" font-family="Liberation Sans, sans-serif" font-size="11.8" text-anchor="end" stroke-width="0.5">0</text>
<text x="33.5" y="508.75" font-family="Liberation Sans, sans-serif" font-size="11.8" text-anchor="end" stroke-width="0.5">0.1</text>
<text x="33.5" y="478.6" font-family="Liberation Sans, sans-serif" font-size="11.8" text-anchor="end" stroke-width="0.5">0.2</text>
<text x="33.5" y="448.45" font-family="Liberation Sans, sans-serif" font-size="11.8" text-anchor="end" stroke-width="0.5">0.3</text>
<text x="33.5" y="418.3" font-family="Liberation Sans, sans-serif" font-size="11.8" text-anchor="end" stroke-width="0.5">0.4</text>
<text x="33.5" y="388.15" font-family="Liberation Sans, sans-serif" font-size="11.8" text-anchor="end" stroke-width="0.5">0.5</text>
<text x="33.5" y="358" font-family="Liberation Sans, sans-serif" font-size="11.8" text-anchor="end" stroke-width="0.5">0.6</text>
<text x="33.5" y="327.85" font-family="Liberation Sans, sans-serif" font-size="11.8" text-anchor="end" stroke-width="0.5">0.7</text>
<text transform="translate(10.9,432) rotate(-90)" font-family="Liberation Serif, serif" font-size="16">F<tspan font-family="Liberation Sans, sans-serif" font-size="11" dy="2.2" dx="0.8">α</tspan></text>
<text x="127.05" y="569" font-family="Liberation Serif, serif" font-size="14.2" textLength="43" lengthAdjust="spacingAndGlyphs">b [deg]</text>
<text x="55.9" y="303.7" font-family="Liberation Serif, serif" font-size="13.6" textLength="184" lengthAdjust="spacingAndGlyphs">F<tspan font-family="Liberation Serif, serif" font-size="9" dy="2.3" stroke-width="0.1">e</tspan><tspan dy="-2.3"> on Earth, <tspan font-family="Liberation Sans, sans-serif" font-size="13.4">μ</tspan>-damped scs., IO</tspan></text>
<text x="49.1" y="471.2" font-family="Liberation Serif, serif" font-size="14.2" textLength="84" lengthAdjust="spacingAndGlyphs">no interactions</text>
<text y="376.6" font-family="Liberation Serif, serif" font-size="14.2"><tspan x="93.1">g</tspan><tspan x="99.6" dy="1.9" font-family="Liberation Sans, sans-serif" font-size="9.4" stroke="none" textLength="11.3" lengthAdjust="spacingAndGlyphs">νa</tspan><tspan x="112.4" dy="-1.9" textLength="8.6" lengthAdjust="spacingAndGlyphs">=</tspan><tspan x="122.1" textLength="20.8" lengthAdjust="spacingAndGlyphs">0.5</tspan><tspan> </tspan><tspan x="148.1" textLength="26.8" lengthAdjust="spacingAndGlyphs">GeV</tspan><tspan x="175.1" dy="-5.6" font-size="9" textLength="6.4" lengthAdjust="spacingAndGlyphs">-1</tspan></text>
<text y="395.1" font-family="Liberation Serif, serif" font-size="14.2"><tspan x="93.1">g</tspan><tspan x="99.6" dy="1.9" font-family="Liberation Sans, sans-serif" font-size="9.4" stroke="none" textLength="11.3" lengthAdjust="spacingAndGlyphs">νa</tspan><tspan x="112.4" dy="-1.9" textLength="8.6" lengthAdjust="spacingAndGlyphs">=</tspan><tspan x="122.1" textLength="29.2" lengthAdjust="spacingAndGlyphs">0.75</tspan><tspan> </tspan><tspan x="156.7" textLength="26.8" lengthAdjust="spacingAndGlyphs">GeV</tspan><tspan x="183.7" dy="-5.6" font-size="9" textLength="6.4" lengthAdjust="spacingAndGlyphs">-1</tspan></text>
<text y="336.6" font-family="Liberation Serif, serif" font-size="14.2"><tspan x="218" textLength="8.6" lengthAdjust="spacingAndGlyphs" stroke-width="0.15">F</tspan><tspan x="226.7" dy="2.4" font-family="Liberation Serif, serif" font-size="9" stroke-width="0.1">e</tspan></text>
<text x="270.08" y="550.9" font-family="Liberation Sans, sans-serif" font-size="11.8" textLength="13.9" lengthAdjust="spacingAndGlyphs" stroke-width="0.5">10</text>
<text x="294.09" y="550.9" font-family="Liberation Sans, sans-serif" font-size="11.8" textLength="13.9" lengthAdjust="spacingAndGlyphs" stroke-width="0.5">20</text>
<text x="318.1" y="550.9" font-family="Liberation Sans, sans-serif" font-size="11.8" textLength="13.9" lengthAdjust="spacingAndGlyphs" stroke-width="0.5">30</text>
<text x="342.11" y="550.9" font-family="Liberation Sans, sans-serif" font-size="11.8" textLength="13.9" lengthAdjust="spacingAndGlyphs" stroke-width="0.5">40</text>
<text x="366.11" y="550.9" font-family="Liberation Sans, sans-serif" font-size="11.8" textLength="13.9" lengthAdjust="spacingAndGlyphs" stroke-width="0.5">50</text>
<text x="390.12" y="550.9" font-family="Liberation Sans, sans-serif" font-size="11.8" textLength="13.9" lengthAdjust="spacingAndGlyphs" stroke-width="0.5">60</text>
<text x="414.13" y="550.9" font-family="Liberation Sans, sans-serif" font-size="11.8" textLength="13.9" lengthAdjust="spacingAndGlyphs" stroke-width="0.5">70</text>
<text x="438.14" y="550.9" font-family="Liberation Sans, sans-serif" font-size="11.8" textLength="13.9" lengthAdjust="spacingAndGlyphs" stroke-width="0.5">80</text>
<text x="343.7" y="569" font-family="Liberation Serif, serif" font-size="14.2" textLength="43" lengthAdjust="spacingAndGlyphs">b [deg]</text>
<text x="266.8" y="303.7" font-family="Liberation Serif, serif" font-size="13.6" textLength="185.4" lengthAdjust="spacingAndGlyphs">F<tspan font-family="Liberation Sans, sans-serif" font-size="9.5" dy="2.3" stroke-width="0.1">μ</tspan><tspan dy="-2.3"> on Earth, <tspan font-family="Liberation Sans, sans-serif" font-size="13.4">μ</tspan>-damped scs., IO</tspan></text>
<text x="265.2" y="405.5" font-family="Liberation Serif, serif" font-size="14.2" textLength="84" lengthAdjust="spacingAndGlyphs">no interactions</text>
<text y="335.3" font-family="Liberation Serif, serif" font-size="14.2"><tspan x="300.7">g</tspan><tspan x="307.2" dy="1.9" font-family="Liberation Sans, sans-serif" font-size="9.4" stroke="none" textLength="11.3" lengthAdjust="spacingAndGlyphs">νa</tspan><tspan x="320" dy="-1.9" textLength="8.6" lengthAdjust="spacingAndGlyphs">=</tspan><tspan x="329.7" textLength="20.8" lengthAdjust="spacingAndGlyphs">0.5</tspan><tspan> </tspan><tspan x="355.7" textLength="26.8" lengthAdjust="spacingAndGlyphs">GeV</tspan><tspan x="382.7" dy="-5.6" font-size="9" textLength="6.4" lengthAdjust="spacingAndGlyphs">-1</tspan></text>
<text y="353.8" font-family="Liberation Serif, serif" font-size="14.2"><tspan x="300.7">g</tspan><tspan x="307.2" dy="1.9" font-family="Liberation Sans, sans-serif" font-size="9.4" stroke="none" textLength="11.3" lengthAdjust="spacingAndGlyphs">νa</tspan><tspan x="320" dy="-1.9" textLength="8.6" lengthAdjust="spacingAndGlyphs">=</tspan><tspan x="329.7" textLength="29.2" lengthAdjust="spacingAndGlyphs">0.75</tspan><tspan> </tspan><tspan x="364.3" textLength="26.8" lengthAdjust="spacingAndGlyphs">GeV</tspan><tspan x="391.3" dy="-5.6" font-size="9" textLength="6.4" lengthAdjust="spacingAndGlyphs">-1</tspan></text>
<text y="336" font-family="Liberation Serif, serif" font-size="14.2"><tspan x="434.9" textLength="8.6" lengthAdjust="spacingAndGlyphs" font-weight="bold" stroke="none">F</tspan><tspan x="443.6" dy="2.4" font-family="Liberation Sans, sans-serif" font-size="9.5" stroke-width="0.1">μ</tspan></text>
<text x="486.69" y="550.9" font-family="Liberation Sans, sans-serif" font-size="11.8" textLength="13.9" lengthAdjust="spacingAndGlyphs" stroke-width="0.5">10</text>
<text x="510.61" y="550.9" font-family="Liberation Sans, sans-serif" font-size="11.8" textLength="13.9" lengthAdjust="spacingAndGlyphs" stroke-width="0.5">20</text>
<text x="534.53" y="550.9" font-family="Liberation Sans, sans-serif" font-size="11.8" textLength="13.9" lengthAdjust="spacingAndGlyphs" stroke-width="0.5">30</text>
<text x="558.45" y="550.9" font-family="Liberation Sans, sans-serif" font-size="11.8" textLength="13.9" lengthAdjust="spacingAndGlyphs" stroke-width="0.5">40</text>
<text x="582.37" y="550.9" font-family="Liberation Sans, sans-serif" font-size="11.8" textLength="13.9" lengthAdjust="spacingAndGlyphs" stroke-width="0.5">50</text>
<text x="606.29" y="550.9" font-family="Liberation Sans, sans-serif" font-size="11.8" textLength="13.9" lengthAdjust="spacingAndGlyphs" stroke-width="0.5">60</text>
<text x="630.21" y="550.9" font-family="Liberation Sans, sans-serif" font-size="11.8" textLength="13.9" lengthAdjust="spacingAndGlyphs" stroke-width="0.5">70</text>
<text x="654.13" y="550.9" font-family="Liberation Sans, sans-serif" font-size="11.8" textLength="13.9" lengthAdjust="spacingAndGlyphs" stroke-width="0.5">80</text>
<text x="559.2" y="569" font-family="Liberation Serif, serif" font-size="14.2" textLength="43" lengthAdjust="spacingAndGlyphs">b [deg]</text>
<text x="483.7" y="303.7" font-family="Liberation Serif, serif" font-size="13.6" textLength="185.2" lengthAdjust="spacingAndGlyphs">F<tspan font-family="Liberation Sans, sans-serif" font-size="9.8" dy="2.3" stroke-width="0.1">τ</tspan><tspan dy="-2.3"> on Earth, <tspan font-family="Liberation Sans, sans-serif" font-size="13.4">μ</tspan>-damped scs., IO</tspan></text>
<text x="480.8" y="432.6" font-family="Liberation Serif, serif" font-size="14.2" textLength="84" lengthAdjust="spacingAndGlyphs">no interactions</text>
<text y="338.7" font-family="Liberation Serif, serif" font-size="14.2"><tspan x="521.4">g</tspan><tspan x="527.9" dy="1.9" font-family="Liberation Sans, sans-serif" font-size="9.4" stroke="none" textLength="11.3" lengthAdjust="spacingAndGlyphs">νa</tspan><tspan x="540.7" dy="-1.9" textLength="8.6" lengthAdjust="spacingAndGlyphs">=</tspan><tspan x="550.4" textLength="20.8" lengthAdjust="spacingAndGlyphs">0.5</tspan><tspan> </tspan><tspan x="576.4" textLength="26.8" lengthAdjust="spacingAndGlyphs">GeV</tspan><tspan x="603.4" dy="-5.6" font-size="9" textLength="6.4" lengthAdjust="spacingAndGlyphs">-1</tspan></text>
<text y="357.2" font-family="Liberation Serif, serif" font-size="14.2"><tspan x="521.4">g</tspan><tspan x="527.9" dy="1.9" font-family="Liberation Sans, sans-serif" font-size="9.4" stroke="none" textLength="11.3" lengthAdjust="spacingAndGlyphs">νa</tspan><tspan x="540.7" dy="-1.9" textLength="8.6" lengthAdjust="spacingAndGlyphs">=</tspan><tspan x="550.4" textLength="29.2" lengthAdjust="spacingAndGlyphs">0.75</tspan><tspan> </tspan><tspan x="585" textLength="26.8" lengthAdjust="spacingAndGlyphs">GeV</tspan><tspan x="612" dy="-5.6" font-size="9" textLength="6.4" lengthAdjust="spacingAndGlyphs">-1</tspan></text>
<text y="339.4" font-family="Liberation Serif, serif" font-size="14.2"><tspan x="650.75" textLength="8.6" lengthAdjust="spacingAndGlyphs" stroke-width="0.6">F</tspan><tspan x="659.45" dy="2.4" font-family="Liberation Sans, sans-serif" font-size="9.8" stroke-width="0.1">τ</tspan></text>
<text x="53.98" y="843.9" font-family="Liberation Sans, sans-serif" font-size="11.8" textLength="13.9" lengthAdjust="spacingAndGlyphs" stroke-width="0.5">10</text>
<text x="77.89" y="843.9" font-family="Liberation Sans, sans-serif" font-size="11.8" textLength="13.9" lengthAdjust="spacingAndGlyphs" stroke-width="0.5">20</text>
<text x="101.8" y="843.9" font-family="Liberation Sans, sans-serif" font-size="11.8" textLength="13.9" lengthAdjust="spacingAndGlyphs" stroke-width="0.5">30</text>
<text x="125.71" y="843.9" font-family="Liberation Sans, sans-serif" font-size="11.8" textLength="13.9" lengthAdjust="spacingAndGlyphs" stroke-width="0.5">40</text>
<text x="149.61" y="843.9" font-family="Liberation Sans, sans-serif" font-size="11.8" textLength="13.9" lengthAdjust="spacingAndGlyphs" stroke-width="0.5">50</text>
<text x="173.52" y="843.9" font-family="Liberation Sans, sans-serif" font-size="11.8" textLength="13.9" lengthAdjust="spacingAndGlyphs" stroke-width="0.5">60</text>
<text x="197.43" y="843.9" font-family="Liberation Sans, sans-serif" font-size="11.8" textLength="13.9" lengthAdjust="spacingAndGlyphs" stroke-width="0.5">70</text>
<text x="221.34" y="843.9" font-family="Liberation Sans, sans-serif" font-size="11.8" textLength="13.9" lengthAdjust="spacingAndGlyphs" stroke-width="0.5">80</text>
<text x="33.5" y="831.9" font-family="Liberation Sans, sans-serif" font-size="11.8" text-anchor="end" stroke-width="0.5">0</text>
<text x="33.5" y="800.9" font-family="Liberation Sans, sans-serif" font-size="11.8" text-anchor="end" stroke-width="0.5">0.1</text>
<text x="33.5" y="769.9" font-family="Liberation Sans, sans-serif" font-size="11.8" text-anchor="end" stroke-width="0.5">0.2</text>
<text x="33.5" y="738.9" font-family="Liberation Sans, sans-serif" font-size="11.8" text-anchor="end" stroke-width="0.5">0.3</text>
<text x="33.5" y="707.9" font-family="Liberation Sans, sans-serif" font-size="11.8" text-anchor="end" stroke-width="0.5">0.4</text>
<text x="33.5" y="676.9" font-family="Liberation Sans, sans-serif" font-size="11.8" text-anchor="end" stroke-width="0.5">0.5</text>
<text x="33.5" y="645.9" font-family="Liberation Sans, sans-serif" font-size="11.8" text-anchor="end" stroke-width="0.5">0.6</text>
<text x="33.5" y="614.9" font-family="Liberation Sans, sans-serif" font-size="11.8" text-anchor="end" stroke-width="0.5">0.7</text>
<text transform="translate(10.9,724.9) rotate(-90)" font-family="Liberation Serif, serif" font-size="16">F<tspan font-family="Liberation Sans, sans-serif" font-size="11" dy="2.2" dx="0.8">α</tspan></text>
<text x="127.05" y="862" font-family="Liberation Serif, serif" font-size="14.2" textLength="43" lengthAdjust="spacingAndGlyphs">b [deg]</text>
<text x="59.5" y="597.0" font-family="Liberation Serif, serif" font-size="13.6" textLength="155.2" lengthAdjust="spacingAndGlyphs">F<tspan font-family="Liberation Serif, serif" font-size="9" dy="2.3" stroke-width="0.1">e</tspan><tspan dy="-2.3"> on Earth, n sources, IO</tspan></text>
<text x="48.5" y="654.1" font-family="Liberation Serif, serif" font-size="14.2" textLength="84" lengthAdjust="spacingAndGlyphs">no interactions</text>
<text y="624.6" font-family="Liberation Serif, serif" font-size="14.2"><tspan x="143.1">g</tspan><tspan x="149.6" dy="1.9" font-family="Liberation Sans, sans-serif" font-size="9.4" stroke="none" textLength="11.3" lengthAdjust="spacingAndGlyphs">νa</tspan><tspan x="162.4" dy="-1.9" textLength="8.6" lengthAdjust="spacingAndGlyphs">=</tspan><tspan x="172.1" textLength="20.8" lengthAdjust="spacingAndGlyphs">0.5</tspan><tspan> </tspan><tspan x="198.1" textLength="26.8" lengthAdjust="spacingAndGlyphs">GeV</tspan><tspan x="225.1" dy="-5.6" font-size="9" textLength="6.4" lengthAdjust="spacingAndGlyphs">-1</tspan></text>
<text y="643.1" font-family="Liberation Serif, serif" font-size="14.2"><tspan x="143.1">g</tspan><tspan x="149.6" dy="1.9" font-family="Liberation Sans, sans-serif" font-size="9.4" stroke="none" textLength="11.3" lengthAdjust="spacingAndGlyphs">νa</tspan><tspan x="162.4" dy="-1.9" textLength="8.6" lengthAdjust="spacingAndGlyphs">=</tspan><tspan x="172.1" textLength="29.2" lengthAdjust="spacingAndGlyphs">0.75</tspan><tspan> </tspan><tspan x="206.7" textLength="26.8" lengthAdjust="spacingAndGlyphs">GeV</tspan><tspan x="233.7" dy="-5.6" font-size="9" textLength="6.4" lengthAdjust="spacingAndGlyphs">-1</tspan></text>
<text y="806.2" font-family="Liberation Serif, serif" font-size="14.2"><tspan x="219.6" textLength="8.6" lengthAdjust="spacingAndGlyphs" font-weight="bold" stroke="none">F</tspan><tspan x="228.3" dy="2.4" font-family="Liberation Serif, serif" font-size="9" stroke-width="0.1">e</tspan></text>
<text x="270.08" y="843.9" font-family="Liberation Sans, sans-serif" font-size="11.8" textLength="13.9" lengthAdjust="spacingAndGlyphs" stroke-width="0.5">10</text>
<text x="294.09" y="843.9" font-family="Liberation Sans, sans-serif" font-size="11.8" textLength="13.9" lengthAdjust="spacingAndGlyphs" stroke-width="0.5">20</text>
<text x="318.1" y="843.9" font-family="Liberation Sans, sans-serif" font-size="11.8" textLength="13.9" lengthAdjust="spacingAndGlyphs" stroke-width="0.5">30</text>
<text x="342.11" y="843.9" font-family="Liberation Sans, sans-serif" font-size="11.8" textLength="13.9" lengthAdjust="spacingAndGlyphs" stroke-width="0.5">40</text>
<text x="366.11" y="843.9" font-family="Liberation Sans, sans-serif" font-size="11.8" textLength="13.9" lengthAdjust="spacingAndGlyphs" stroke-width="0.5">50</text>
<text x="390.12" y="843.9" font-family="Liberation Sans, sans-serif" font-size="11.8" textLength="13.9" lengthAdjust="spacingAndGlyphs" stroke-width="0.5">60</text>
<text x="414.13" y="843.9" font-family="Liberation Sans, sans-serif" font-size="11.8" textLength="13.9" lengthAdjust="spacingAndGlyphs" stroke-width="0.5">70</text>
<text x="438.14" y="843.9" font-family="Liberation Sans, sans-serif" font-size="11.8" textLength="13.9" lengthAdjust="spacingAndGlyphs" stroke-width="0.5">80</text>
<text x="343.7" y="862" font-family="Liberation Serif, serif" font-size="14.2" textLength="43" lengthAdjust="spacingAndGlyphs">b [deg]</text>
<text x="276.2" y="597.0" font-family="Liberation Serif, serif" font-size="13.6" textLength="156.2" lengthAdjust="spacingAndGlyphs">F<tspan font-family="Liberation Sans, sans-serif" font-size="9.5" dy="2.3" stroke-width="0.1">μ</tspan><tspan dy="-2.3"> on Earth, n sources, IO</tspan></text>
<text x="288.7" y="761.9" font-family="Liberation Serif, serif" font-size="14.2" textLength="84" lengthAdjust="spacingAndGlyphs">no interactions</text>
<text y="624.6" font-family="Liberation Serif, serif" font-size="14.2"><tspan x="295.6">g</tspan><tspan x="302.1" dy="1.9" font-family="Liberation Sans, sans-serif" font-size="9.4" stroke="none" textLength="11.3" lengthAdjust="spacingAndGlyphs">νa</tspan><tspan x="314.9" dy="-1.9" textLength="8.6" lengthAdjust="spacingAndGlyphs">=</tspan><tspan x="324.6" textLength="20.8" lengthAdjust="spacingAndGlyphs">0.5</tspan><tspan> </tspan><tspan x="350.6" textLength="26.8" lengthAdjust="spacingAndGlyphs">GeV</tspan><tspan x="377.6" dy="-5.6" font-size="9" textLength="6.4" lengthAdjust="spacingAndGlyphs">-1</tspan></text>
<text y="643.1" font-family="Liberation Serif, serif" font-size="14.2"><tspan x="295.6">g</tspan><tspan x="302.1" dy="1.9" font-family="Liberation Sans, sans-serif" font-size="9.4" stroke="none" textLength="11.3" lengthAdjust="spacingAndGlyphs">νa</tspan><tspan x="314.9" dy="-1.9" textLength="8.6" lengthAdjust="spacingAndGlyphs">=</tspan><tspan x="324.6" textLength="29.2" lengthAdjust="spacingAndGlyphs">0.75</tspan><tspan> </tspan><tspan x="359.2" textLength="26.8" lengthAdjust="spacingAndGlyphs">GeV</tspan><tspan x="386.2" dy="-5.6" font-size="9" textLength="6.4" lengthAdjust="spacingAndGlyphs">-1</tspan></text>
<text y="630.7" font-family="Liberation Serif, serif" font-size="14.2"><tspan x="431" textLength="8.6" lengthAdjust="spacingAndGlyphs" stroke-width="0.15">F</tspan><tspan x="439.7" dy="2.4" font-family="Liberation Sans, sans-serif" font-size="9.5" stroke-width="0.1">μ</tspan></text>
<text x="486.69" y="843.9" font-family="Liberation Sans, sans-serif" font-size="11.8" textLength="13.9" lengthAdjust="spacingAndGlyphs" stroke-width="0.5">10</text>
<text x="510.61" y="843.9" font-family="Liberation Sans, sans-serif" font-size="11.8" textLength="13.9" lengthAdjust="spacingAndGlyphs" stroke-width="0.5">20</text>
<text x="534.53" y="843.9" font-family="Liberation Sans, sans-serif" font-size="11.8" textLength="13.9" lengthAdjust="spacingAndGlyphs" stroke-width="0.5">30</text>
<text x="558.45" y="843.9" font-family="Liberation Sans, sans-serif" font-size="11.8" textLength="13.9" lengthAdjust="spacingAndGlyphs" stroke-width="0.5">40</text>
<text x="582.37" y="843.9" font-family="Liberation Sans, sans-serif" font-size="11.8" textLength="13.9" lengthAdjust="spacingAndGlyphs" stroke-width="0.5">50</text>
<text x="606.29" y="843.9" font-family="Liberation Sans, sans-serif" font-size="11.8" textLength="13.9" lengthAdjust="spacingAndGlyphs" stroke-width="0.5">60</text>
<text x="630.21" y="843.9" font-family="Liberation Sans, sans-serif" font-size="11.8" textLength="13.9" lengthAdjust="spacingAndGlyphs" stroke-width="0.5">70</text>
<text x="654.13" y="843.9" font-family="Liberation Sans, sans-serif" font-size="11.8" textLength="13.9" lengthAdjust="spacingAndGlyphs" stroke-width="0.5">80</text>
<text x="559.2" y="862" font-family="Liberation Serif, serif" font-size="14.2" textLength="43" lengthAdjust="spacingAndGlyphs">b [deg]</text>
<text x="494.5" y="597.0" font-family="Liberation Serif, serif" font-size="13.6" textLength="156" lengthAdjust="spacingAndGlyphs">F<tspan font-family="Liberation Sans, sans-serif" font-size="9.8" dy="2.3" stroke-width="0.1">τ</tspan><tspan dy="-2.3"> on Earth, n sources, IO</tspan></text>
<text x="490.3" y="764.6" font-family="Liberation Serif, serif" font-size="14.2" textLength="84" lengthAdjust="spacingAndGlyphs">no interactions</text>
<text y="625.2" font-family="Liberation Serif, serif" font-size="14.2"><tspan x="522.8">g</tspan><tspan x="529.3" dy="1.9" font-family="Liberation Sans, sans-serif" font-size="9.4" stroke="none" textLength="11.3" lengthAdjust="spacingAndGlyphs">νa</tspan><tspan x="542.1" dy="-1.9" textLength="8.6" lengthAdjust="spacingAndGlyphs">=</tspan><tspan x="551.8" textLength="20.8" lengthAdjust="spacingAndGlyphs">0.5</tspan><tspan> </tspan><tspan x="577.8" textLength="26.8" lengthAdjust="spacingAndGlyphs">GeV</tspan><tspan x="604.8" dy="-5.6" font-size="9" textLength="6.4" lengthAdjust="spacingAndGlyphs">-1</tspan></text>
<text y="643.5" font-family="Liberation Serif, serif" font-size="14.2"><tspan x="522.8">g</tspan><tspan x="529.3" dy="1.9" font-family="Liberation Sans, sans-serif" font-size="9.4" stroke="none" textLength="11.3" lengthAdjust="spacingAndGlyphs">νa</tspan><tspan x="542.1" dy="-1.9" textLength="8.6" lengthAdjust="spacingAndGlyphs">=</tspan><tspan x="551.8" textLength="29.2" lengthAdjust="spacingAndGlyphs">0.75</tspan><tspan> </tspan><tspan x="586.4" textLength="26.8" lengthAdjust="spacingAndGlyphs">GeV</tspan><tspan x="613.4" dy="-5.6" font-size="9" textLength="6.4" lengthAdjust="spacingAndGlyphs">-1</tspan></text>
<text y="630.85" font-family="Liberation Serif, serif" font-size="14.2"><tspan x="652" textLength="8.6" lengthAdjust="spacingAndGlyphs" stroke-width="0.15">F</tspan><tspan x="660.7" dy="2.4" font-family="Liberation Sans, sans-serif" font-size="9.8" stroke-width="0.1">τ</tspan></text>
</g>
</svg>
</body></html>
